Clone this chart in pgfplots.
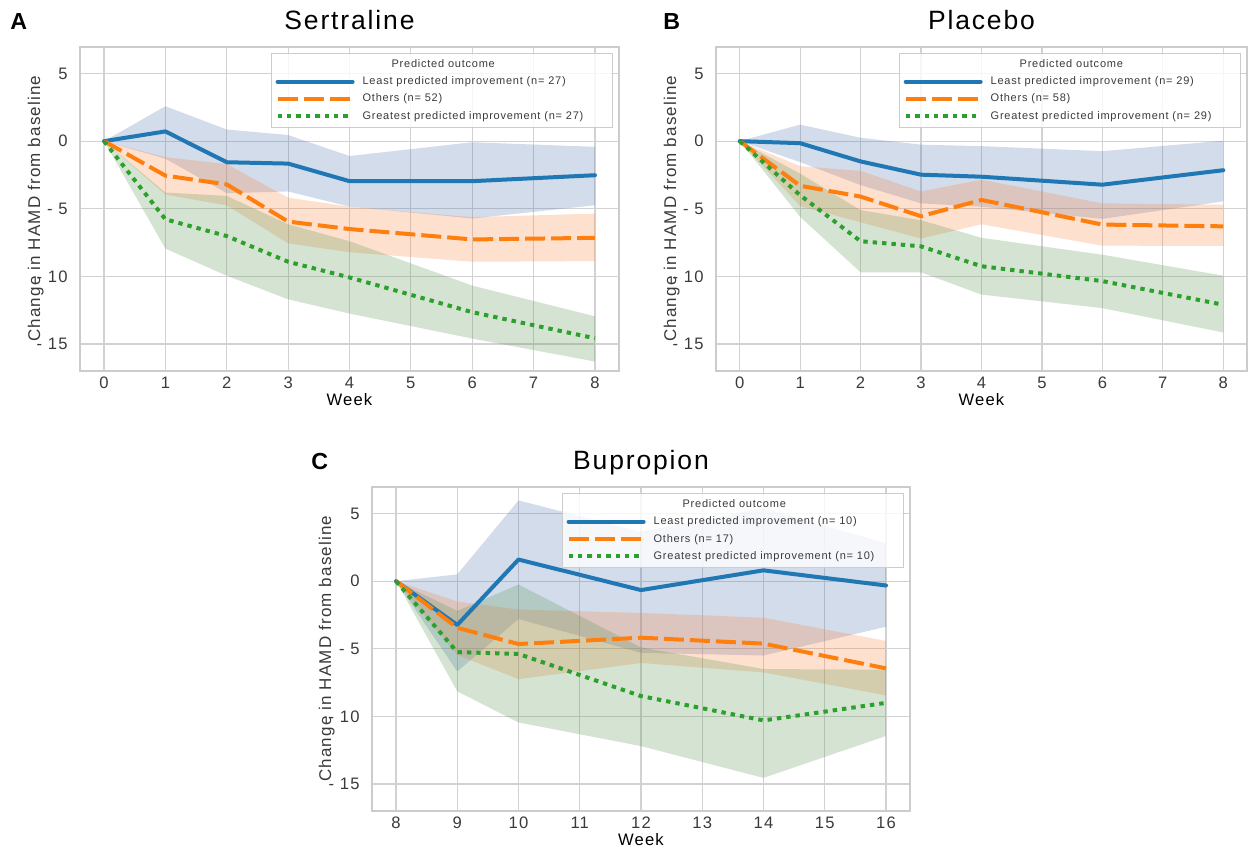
\documentclass[border=0pt]{standalone}
\usepackage{fontspec}
\setmainfont{Liberation Sans}[LetterSpace=7]
\usepackage{pgfplots}
\pgfplotsset{compat=1.18}

\definecolor{lineblue}{RGB}{31,119,180}
\definecolor{lineorange}{RGB}{255,127,14}
\definecolor{linegreen}{RGB}{44,160,44}
\definecolor{bandblue}{RGB}{76,114,176}
\definecolor{bandorange}{RGB}{250,130,60}
\definecolor{bandgreen}{RGB}{85,145,75}
\definecolor{gridgray}{RGB}{210,210,210}
\definecolor{framegray}{RGB}{204,204,204}
\definecolor{txtgray}{RGB}{58,58,58}

\pgfplotsset{
  panel/.style={
    scale only axis, height=162.25pt,
    ymin=-17, ymax=7, ytick={-15,-10,-5,0,5},
    yticklabels={- 15,- 10,- 5,0,5},
    grid=major, major grid style={draw=gridgray, line width=0.6pt},
    axis line style={draw=framegray, line width=1pt},
    major tick length=0pt, tick style={draw=none},
    tick label style={font=\fontsize{8.3}{10}\selectfont, text=txtgray, inner sep=0pt},
    xticklabel style={anchor=north, yshift=-2.6pt},
    yticklabel style={anchor=east, xshift=-5.75pt},
    label style={font=\fontsize{8.5}{10}\selectfont, text=txtgray, inner sep=0pt},
    every axis title/.style={at={(0.5,1)}, anchor=base, yshift=8.75pt,
      font=\fontsize{13.25}{15}\selectfont},
    xlabel=Week, ylabel=Change in HAMD from baseline,
    every axis x label/.style={at={(axis description cs:0.5,0)}, anchor=base, yshift=-17.4pt,
      font=\fontsize{8.3}{10}\selectfont},
    legend cell align=left,
    legend style={at={(0.988,0.98)}, anchor=north east, fill=white,
      fill opacity=0.8, text opacity=1, draw=framegray,
      inner sep=2pt, row sep=1.65pt, column sep=2pt,
      font=\fontsize{5.5}{6.6}\selectfont, text=txtgray,
      nodes={inner xsep=2pt, inner ysep=0.5pt, text height=4.5pt, text depth=1.5pt}},
    legend image code/.code={\draw[##1] (0pt,0pt) -- (37.5pt,0pt);},
  },
  band/.style={draw=none, fill=#1, fill opacity=0.25, forget plot},
  least/.style={lineblue, line width=2pt, line cap=round, line join=round},
  others/.style={lineorange, line width=2pt, dash pattern=on 10pt off 3pt},
  greatest/.style={linegreen, line width=2pt, dash pattern=on 2.2pt off 2.5pt},
}

\newcommand{\legtitle}{\makebox[121pt][l]{\hspace{14.5pt}Predicted outcome}}

\begin{document}
\begin{tikzpicture}
\path[use as bounding box] (0,0) rectangle (624pt,-423.5pt);

% ---------------- A: Sertraline ----------------
\begin{axis}[panel, at={(39.75pt,-185.5pt)}, anchor=south west, width=270pt,
  xmin=-0.4, xmax=8.4, xtick={0,...,8}, xticklabels={0,1,2,3,4,5,6,7,8},
  ylabel style={at={(axis description cs:-0.0731,0.5)}, anchor=base},
  title=Sertraline]
% bands: upper edge forward, lower edge back
\addplot[band=bandblue] coordinates {(0,0) (1,2.58) (2,0.86) (3,0.45) (4,-1.10) (6,-0.08) (8,-0.42)
  (8,-4.74) (6,-5.72) (4,-4.84) (3,-3.72) (2,-3.85) (1,-1.30)};
\addplot[band=bandorange] coordinates {(0,0) (1,-1.18) (2,-1.70) (3,-4.18) (4,-4.85) (6,-5.62) (8,-5.36)
  (8,-8.87) (6,-8.92) (4,-8.22) (3,-7.55) (2,-4.75) (1,-3.95)};
\addplot[band=bandgreen] coordinates {(0,0) (1,-3.80) (2,-4.05) (3,-6.15) (4,-7.40) (6,-10.68) (8,-12.95)
  (8,-16.30) (6,-14.60) (4,-12.75) (3,-11.70) (2,-9.95) (1,-7.95)};
\addlegendimage{empty legend}\addlegendentry{\legtitle}
\addplot[least] coordinates {(0,0) (1,0.72) (2,-1.56) (3,-1.66) (4,-2.96) (6,-2.96) (8,-2.52)};
\addlegendentry{Least predicted improvement (n= 27)}
\addplot[others] coordinates {(0,0) (1,-2.55) (2,-3.20) (3,-5.95) (4,-6.50) (6,-7.27) (8,-7.15)};
\addlegendentry{Others (n= 52)}
\addplot[greatest] coordinates {(0,0) (1,-5.78) (2,-7.02) (3,-8.92) (4,-10.08) (6,-12.65) (8,-14.58)};
\addlegendentry{Greatest predicted improvement (n= 27)}
\end{axis}

% ---------------- B: Placebo ----------------
\begin{axis}[panel, at={(357.75pt,-185.5pt)}, anchor=south west, width=266pt,
  xmin=-0.4, xmax=8.4, xtick={0,...,8}, xticklabels={0,1,2,3,4,5,6,7,8},
  ylabel style={at={(axis description cs:-0.0742,0.5)}, anchor=base},
  title=Placebo]
\addplot[band=bandblue] coordinates {(0,0) (1,1.22) (2,0.25) (3,-0.26) (4,-0.37) (6,-0.74) (8,0.03)
  (8,-4.45) (6,-5.75) (4,-4.85) (3,-4.60) (2,-3.25) (1,-1.55)};
\addplot[band=bandorange] coordinates {(0,0) (1,-1.85) (2,-2.20) (3,-3.72) (4,-2.85) (6,-4.60) (8,-4.70)
  (8,-7.75) (6,-7.73) (4,-6.15) (3,-7.20) (2,-6.00) (1,-4.80)};
\addplot[band=bandgreen] coordinates {(0,0) (1,-2.40) (2,-5.10) (3,-5.85) (4,-7.15) (6,-8.40) (8,-9.95)
  (8,-14.15) (6,-12.35) (4,-11.35) (3,-9.70) (2,-9.70) (1,-5.60)};
\addlegendimage{empty legend}\addlegendentry{\legtitle}
\addplot[least] coordinates {(0,0) (1,-0.15) (2,-1.50) (3,-2.48) (4,-2.63) (6,-3.22) (8,-2.15)};
\addlegendentry{Least predicted improvement (n= 29)}
\addplot[others] coordinates {(0,0) (1,-3.30) (2,-4.10) (3,-5.55) (4,-4.35) (6,-6.17) (8,-6.30)};
\addlegendentry{Others (n= 58)}
\addplot[greatest] coordinates {(0,0) (1,-4.00) (2,-7.40) (3,-7.78) (4,-9.25) (6,-10.35) (8,-12.10)};
\addlegendentry{Greatest predicted improvement (n= 29)}
\end{axis}

% ---------------- C: Bupropion ----------------
\begin{axis}[panel, at={(185.75pt,-405.5pt)}, anchor=south west, width=269.5pt,
  xmin=7.6, xmax=16.4, xtick={8,...,16}, xticklabels={8,9,10,11,12,13,14,15,16},
  ylabel style={at={(axis description cs:-0.0751,0.5)}, anchor=base},
  title=Bupropion]
\addplot[band=bandblue] coordinates {(8,0) (9,0.50) (10,5.97) (12,3.66) (14,5.40) (16,2.80)
  (16,-3.37) (14,-5.50) (12,-5.30) (10,-2.80) (9,-6.68)};
\addplot[band=bandorange] coordinates {(8,0) (9,-1.50) (10,-2.10) (12,-2.35) (14,-2.70) (16,-4.42)
  (16,-8.45) (14,-6.75) (12,-6.05) (10,-7.25) (9,-5.45)};
\addplot[band=bandgreen] coordinates {(8,0) (9,-2.20) (10,-0.25) (12,-4.90) (14,-6.50) (16,-6.55)
  (16,-11.45) (14,-14.55) (12,-12.20) (10,-10.45) (9,-8.15)};
\addlegendimage{empty legend}\addlegendentry{\legtitle}
\addplot[least] coordinates {(8,0) (9,-3.24) (10,1.60) (12,-0.66) (14,0.80) (16,-0.32)};
\addlegendentry{Least predicted improvement (n= 10)}
\addplot[others] coordinates {(8,0) (9,-3.45) (10,-4.65) (12,-4.18) (14,-4.62) (16,-6.45)};
\addlegendentry{Others (n= 17)}
\addplot[greatest] coordinates {(8,0) (9,-5.25) (10,-5.38) (12,-8.50) (14,-10.30) (16,-9.00)};
\addlegendentry{Greatest predicted improvement (n= 10)}
\end{axis}

\node[anchor=base west, inner sep=0pt, font=\fontsize{11.6}{13}\selectfont\bfseries] at (5pt,-14.5pt) {A};
\node[anchor=base west, inner sep=0pt, font=\fontsize{11.6}{13}\selectfont\bfseries] at (331.5pt,-14.5pt) {B};
\node[anchor=base west, inner sep=0pt, font=\fontsize{11.6}{13}\selectfont\bfseries] at (155.5pt,-234.5pt) {C};
\end{tikzpicture}
\end{document}
